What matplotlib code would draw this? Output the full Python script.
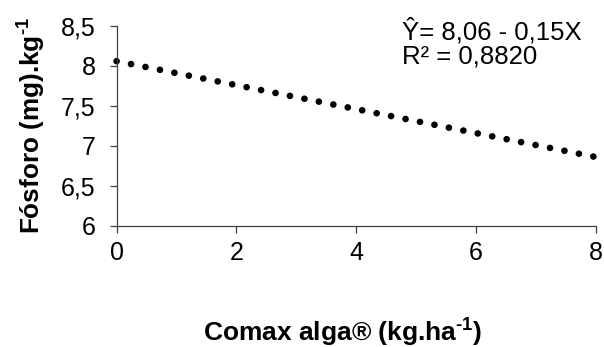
import matplotlib.pyplot as plt

# Fitted line endpoints (Ŷ = 8,06 - 0,15X)
x_vals = [0, 8]
y_vals = [8.06, 6.86]

x_ticks = [0, 2, 4, 6, 8]
y_ticks = [6, 6.5, 7, 7.5, 8, 8.5]
y_tick_labels = ['6', '6,5', '7', '7,5', '8', '8,5']

plt.rcParams['font.family'] = ['Liberation Sans', 'DejaVu Sans']
plt.rcParams['mathtext.fontset'] = 'custom'
plt.rcParams['mathtext.rm'] = 'Liberation Sans:bold'
plt.rcParams['mathtext.bf'] = 'Liberation Sans:bold'

fig = plt.figure(figsize=(6.04, 3.47), dpi=100)
ax = fig.add_axes([0.193, 0.3496, 0.793, 0.5754])

# round dots, roughly 16 px apart like the Excel dotted trendline
line, = ax.plot(x_vals, y_vals, color='black', linewidth=4.8,
                linestyle=(0, (0.01, 2.2)))
line.set_dash_capstyle('round')
line.set_clip_on(False)

ax.set_xlim(0, 8)
ax.set_ylim(6, 8.5)
ax.set_xticks(x_ticks)
ax.set_yticks(y_ticks)
ax.set_yticklabels(y_tick_labels)

for s in ['top', 'right']:
    ax.spines[s].set_visible(False)
for s in ['left', 'bottom']:
    ax.spines[s].set_color('#404040')
    ax.spines[s].set_linewidth(0.9)

ax.tick_params(axis='both', direction='out', length=5, width=0.9,
               color='#404040', labelsize=18)
ax.tick_params(axis='y', pad=10)
ax.tick_params(axis='x', pad=6)

ax.set_ylabel('Fósforo (mg).kg$^{\\text{-1}}$', fontsize=18.8, fontweight='bold', labelpad=10)
ax.set_xlabel('Comax alga® (kg.ha$^{\\text{-1}}$)', fontsize=19, fontweight='bold', labelpad=38)
ax.xaxis.set_label_coords(0.473, -0.45)

ax.text(0.595, 1.04, 'Ŷ= 8,06 - 0,15X\nR² = 0,8820', transform=ax.transAxes,
        fontsize=18.5, va='top', ha='left', linespacing=1.0)

fig.savefig('out.png', dpi=100)
